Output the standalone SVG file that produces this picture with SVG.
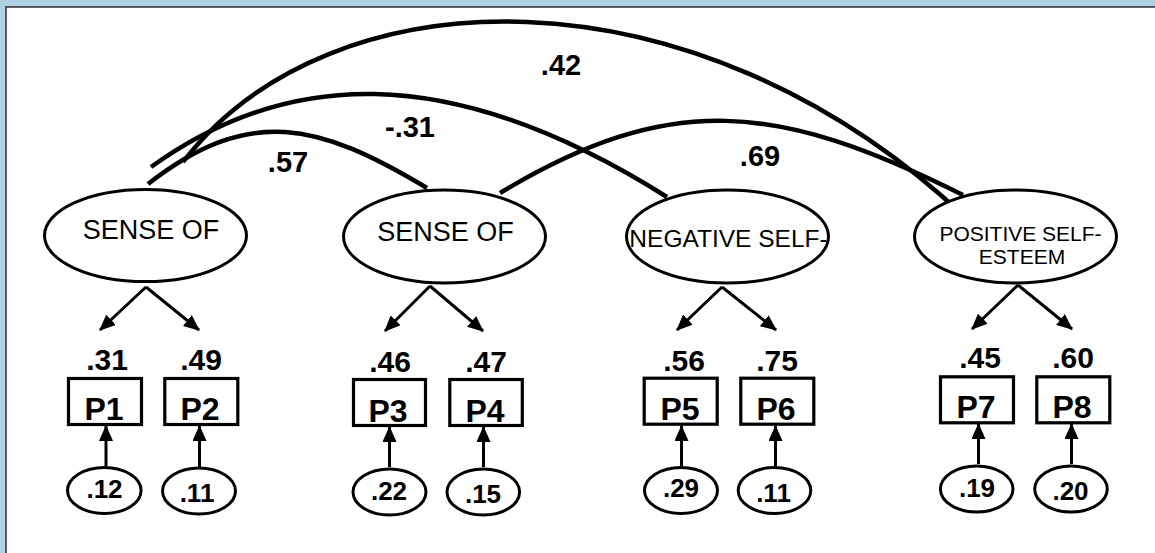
<svg xmlns="http://www.w3.org/2000/svg" width="1155" height="553" viewBox="0 0 1155 553">
<style>
.lat{fill:#fff;stroke:#000;stroke-width:3}
.latt{font-family:"Liberation Sans",Arial,sans-serif;font-size:27px;fill:#000;text-anchor:middle}
.box{fill:#fff;stroke:#000;stroke-width:3.2}
.boxt{font-family:"Liberation Sans",Arial,sans-serif;font-size:32px;font-weight:bold;fill:#000;text-anchor:middle}
.err{fill:#fff;stroke:#000;stroke-width:3}
.errt{font-family:"Liberation Sans",Arial,sans-serif;font-size:26px;font-weight:bold;fill:#000;text-anchor:middle}
.num{font-family:"Liberation Sans",Arial,sans-serif;font-size:30px;font-weight:bold;fill:#000;text-anchor:middle}
.cor{font-family:"Liberation Sans",Arial,sans-serif;font-size:29px;font-weight:bold;fill:#000;text-anchor:middle}
.arc{fill:none;stroke:#000;stroke-width:4.5}
.arr{fill:none;stroke:#000;stroke-width:3;marker-end:url(#ah)}
</style>
<defs>
<marker id="ah" viewBox="0 0 16 14" refX="15" refY="7" markerWidth="16" markerHeight="14" markerUnits="userSpaceOnUse" orient="auto">
<path d="M0,0 L16,7 L0,14 z" fill="#000"/>
</marker>
</defs>
<rect x="0" y="0" width="1155" height="553" fill="#b0d1e3"/>
<rect x="6" y="7" width="1160" height="560" fill="#fff" stroke="#2a2f33" stroke-width="1.5"/>

<g id="connectors">
<path class="arc" d="M148,184 C249.4,104.9 318.9,123.1 427,188"/>
<path class="arc" d="M151,167 C282.5,72.3 444.8,57 667,197"/>
<path class="arc" d="M183,162 C329.8,-28.9 692.9,-38.8 965,217"/>
<path class="arc" d="M500,193 C670,91 777,102 963,195"/>
<line class="arr" x1="146" y1="287" x2="100" y2="330"/>
<line class="arr" x1="146" y1="287" x2="199" y2="330"/>
<line class="arr" x1="430" y1="286" x2="385" y2="331"/>
<line class="arr" x1="430" y1="286" x2="483" y2="331"/>
<line class="arr" x1="722" y1="287" x2="677" y2="330"/>
<line class="arr" x1="722" y1="287" x2="776" y2="330"/>
<line class="arr" x1="1018" y1="285" x2="972" y2="329"/>
<line class="arr" x1="1018" y1="285" x2="1072" y2="329"/>
<line class="arr" x1="106" y1="466" x2="106" y2="426"/>
<line class="arr" x1="199.5" y1="467" x2="199.5" y2="426"/>
<line class="arr" x1="389.5" y1="467" x2="389.5" y2="427"/>
<line class="arr" x1="483.5" y1="467" x2="483.5" y2="427"/>
<line class="arr" x1="681.5" y1="466" x2="681.5" y2="426"/>
<line class="arr" x1="775.5" y1="466" x2="775.5" y2="426"/>
<line class="arr" x1="978.5" y1="464" x2="978.5" y2="424"/>
<line class="arr" x1="1071.5" y1="464" x2="1071.5" y2="424"/>
<text class="cor" x="288" y="172">.57</text>
<text class="cor" x="410" y="137">-.31</text>
<text class="cor" x="561" y="75">.42</text>
<text class="cor" x="760" y="166">.69</text>
</g>

<g id="F1">
<ellipse class="lat" cx="145.5" cy="235.5" rx="101" ry="46"/>
<text class="latt" x="151" y="239">SENSE OF</text>
</g>
<g id="F2">
<ellipse class="lat" cx="444.5" cy="236.5" rx="101" ry="46.5"/>
<text class="latt" x="445.5" y="240.5">SENSE OF</text>
</g>
<g id="F3">
<ellipse class="lat" cx="727.5" cy="236.5" rx="101" ry="46.5"/>
<text class="latt" x="728.5" y="247" style="font-size:24.5px">NEGATIVE SELF-</text>
</g>
<g id="F4">
<ellipse class="lat" cx="1015.5" cy="236.5" rx="101" ry="46.5"/>
<text class="latt" x="1020.5" y="241" style="font-size:21px">POSITIVE SELF-</text>
<text class="latt" x="1022" y="264" style="font-size:21px">ESTEEM</text>
</g>

<g id="P1">
<text class="num" x="107" y="370">.31</text>
<rect class="box" x="68.5" y="378.5" width="73" height="46"/>
<text class="boxt" x="104" y="420">P1</text>
</g>
<g id="P2">
<text class="num" x="201" y="370">.49</text>
<rect class="box" x="164.8" y="378.5" width="73" height="46"/>
<text class="boxt" x="200" y="420">P2</text>
</g>
<g id="P3">
<text class="num" x="390" y="371.5">.46</text>
<rect class="box" x="353.5" y="379.5" width="72" height="46"/>
<text class="boxt" x="388" y="421.5">P3</text>
</g>
<g id="P4">
<text class="num" x="486" y="371.5">.47</text>
<rect class="box" x="449.8" y="379.5" width="72.5" height="46"/>
<text class="boxt" x="485" y="421.5">P4</text>
</g>
<g id="P5">
<text class="num" x="684" y="370.5">.56</text>
<rect class="box" x="644.2" y="378.2" width="73" height="46"/>
<text class="boxt" x="680" y="420">P5</text>
</g>
<g id="P6">
<text class="num" x="777" y="370.5">.75</text>
<rect class="box" x="740.8" y="378.2" width="73" height="46"/>
<text class="boxt" x="776" y="420">P6</text>
</g>
<g id="P7">
<text class="num" x="980" y="368.3">.45</text>
<rect class="box" x="940.5" y="376.8" width="73" height="46"/>
<text class="boxt" x="976" y="418.3">P7</text>
</g>
<g id="P8">
<text class="num" x="1073" y="368.3">.60</text>
<rect class="box" x="1036.8" y="376.8" width="73" height="46"/>
<text class="boxt" x="1072" y="418.3">P8</text>
</g>

<g id="e1">
<ellipse class="err" cx="104.3" cy="490.5" rx="36.8" ry="23"/>
<text class="errt" x="104.5" y="498.3">.12</text>
</g>
<g id="e2">
<ellipse class="err" cx="199" cy="491" rx="36.5" ry="23"/>
<text class="errt" x="197" y="501.7">.11</text>
</g>
<g id="e3">
<ellipse class="err" cx="389.5" cy="492" rx="36.5" ry="23"/>
<text class="errt" x="389" y="500">.22</text>
</g>
<g id="e4">
<ellipse class="err" cx="483.3" cy="492" rx="36.3" ry="23"/>
<text class="errt" x="483" y="503.3">.15</text>
</g>
<g id="e5">
<ellipse class="err" cx="681" cy="490.5" rx="36.5" ry="23"/>
<text class="errt" x="681" y="497.3">.29</text>
</g>
<g id="e6">
<ellipse class="err" cx="774.5" cy="490.5" rx="36.3" ry="23"/>
<text class="errt" x="773.5" y="501.7">.11</text>
</g>
<g id="e7">
<ellipse class="err" cx="976.7" cy="489" rx="36.3" ry="23"/>
<text class="errt" x="977" y="496.7">.19</text>
</g>
<g id="e8">
<ellipse class="err" cx="1071" cy="489" rx="36.3" ry="23"/>
<text class="errt" x="1070.5" y="500">.20</text>
</g>
</svg>
